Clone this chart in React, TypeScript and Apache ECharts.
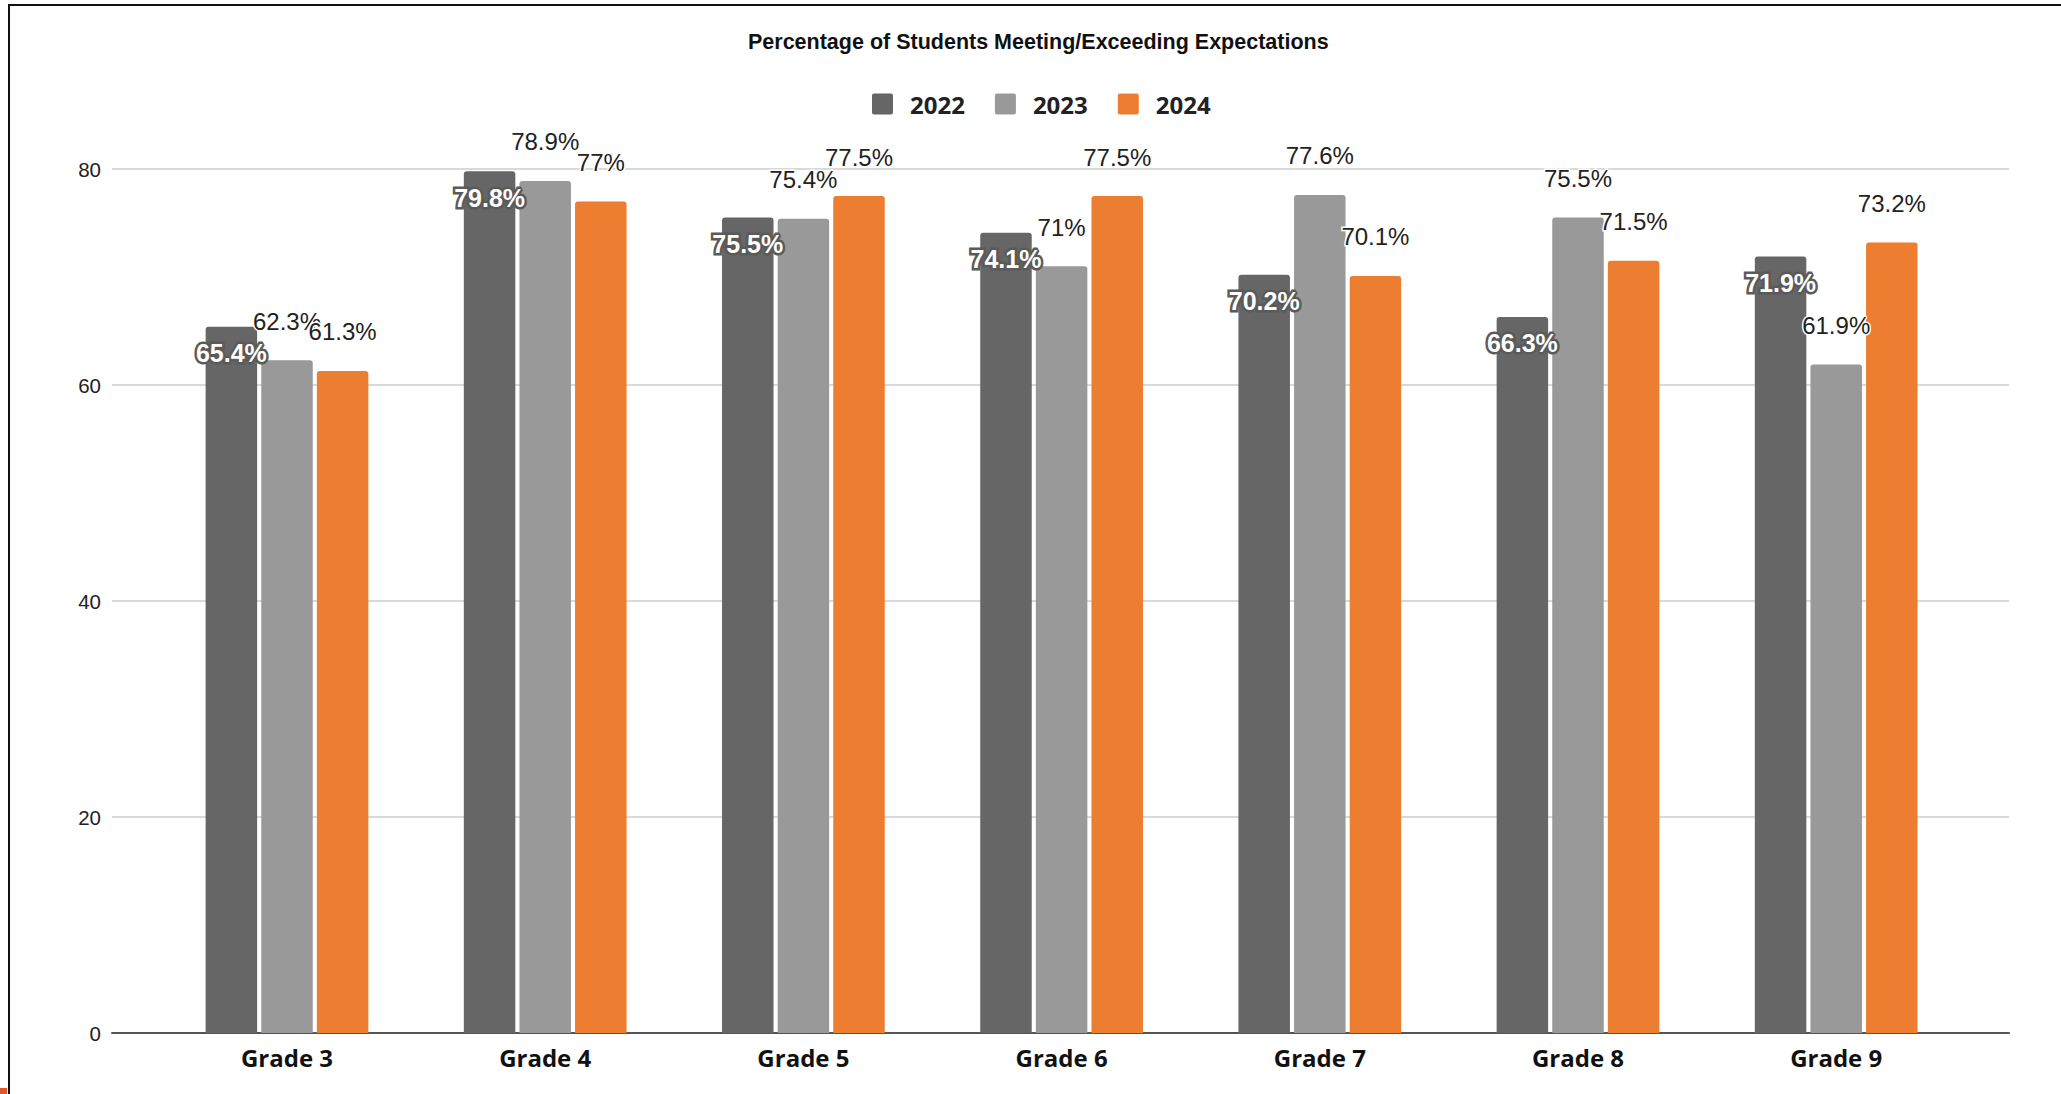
import React, { useEffect, useRef } from "react";
import * as echarts from "echarts";

const categories = ["Grade 3", "Grade 4", "Grade 5", "Grade 6", "Grade 7", "Grade 8", "Grade 9"];
const seriesNames = ["2022", "2023", "2024"];
const values2022 = [65.4, 79.8, 75.5, 74.1, 70.2, 66.3, 71.9];
const values2023 = [62.3, 78.9, 75.4, 71, 77.6, 75.5, 61.9];
const values2024 = [61.3, 77, 77.5, 77.5, 70.1, 71.5, 73.2];
const yMin = 0;
const yMax = 80;
const yInterval = 20;
const colors = ["#666666", "#999999", "#ED7D31"];
const titleText = "Percentage of Students Meeting/Exceeding Expectations";

const squareIcon =
  "path://M2,0H18A2,2,0,0,1,20,2V18A2,2,0,0,1,18,20H2A2,2,0,0,1,0,18V2A2,2,0,0,1,2,0Z";

export default function App() {
  const ref = useRef<HTMLDivElement>(null);
  useEffect(() => {
    if (!ref.current) return;
    const chart = echarts.init(ref.current, null, { renderer: "svg" });
    const outerLabel = {
      show: true,
      position: "top",
      distance: 27,
      formatter: "{c}%",
      color: "#222222",
      fontSize: 24,
      fontFamily: "Liberation Sans, Arial, sans-serif",
      textBorderColor: "#ffffff",
      textBorderWidth: 3,
    };
    chart.setOption({
      animation: false,
      backgroundColor: "#ffffff",
      title: {
        text: titleText,
        left: 748,
        top: 31,
        padding: 0,
        textStyle: {
          fontFamily: "Liberation Sans, Arial, sans-serif",
          fontWeight: "bold",
          fontSize: 21.5,
          color: "#111111",
        },
      },
      legend: {
        data: seriesNames,
        left: 872,
        top: 92,
        padding: 0,
        itemWidth: 21,
        itemHeight: 21,
        itemGap: 30,
        icon: squareIcon,
        textStyle: {
          fontFamily: "Open Sans, sans-serif",
          fontWeight: "bold",
          fontSize: 24,
          color: "#222222",
          padding: [0, 0, 0, 12],
        },
      },
      grid: [
        { left: 112, right: 52, top: 169, bottom: 61 },
        { left: 157.9, right: 95.7, top: 169, bottom: 61 },
      ],
      xAxis: [
        {
          gridIndex: 0,
          type: "value",
          min: 0,
          max: 1,
          axisLine: { show: true, lineStyle: { color: "#555555", width: 2 } },
          axisTick: { show: false },
          axisLabel: { show: false },
          splitLine: { show: false },
        },
        {
          gridIndex: 1,
          type: "category",
          data: categories,
          axisLine: { show: false },
          axisTick: { show: false },
          axisLabel: {
            margin: 12,
            fontFamily: "Open Sans, sans-serif",
            fontWeight: "bold",
            fontSize: 24,
            color: "#111111",
          },
        },
      ],
      yAxis: [
        {
          gridIndex: 0,
          type: "value",
          min: yMin,
          max: yMax,
          interval: yInterval,
          axisLine: { show: false },
          axisTick: { show: false },
          axisLabel: {
            margin: 11,
            fontFamily: "Liberation Sans, Arial, sans-serif",
            fontSize: 20.5,
            color: "#222222",
          },
          splitLine: { show: true, lineStyle: { color: "#cccccc", width: 1.5 } },
        },
        {
          gridIndex: 1,
          type: "value",
          min: yMin,
          max: yMax,
          interval: yInterval,
          show: false,
        },
      ],
      series: [
        {
          name: seriesNames[0],
          type: "bar",
          xAxisIndex: 1,
          yAxisIndex: 1,
          data: values2022,
          barWidth: 51.5,
          barGap: "8%",
          itemStyle: { color: colors[0], borderRadius: [3, 3, 0, 0] },
          label: {
            show: true,
            position: "insideTop",
            distance: 14,
            formatter: "{c}%",
            color: "#ffffff",
            fontWeight: "bold",
            fontSize: 25,
            fontFamily: "Liberation Sans, Arial, sans-serif",
            textBorderColor: "#5a5a5a",
            textBorderWidth: 5,
          },
        },
        {
          name: seriesNames[1],
          type: "bar",
          xAxisIndex: 1,
          yAxisIndex: 1,
          data: values2023,
          barWidth: 51.5,
          barGap: "8%",
          itemStyle: { color: colors[1], borderRadius: [3, 3, 0, 0] },
          label: outerLabel,
        },
        {
          name: seriesNames[2],
          type: "bar",
          xAxisIndex: 1,
          yAxisIndex: 1,
          data: values2024,
          barWidth: 51.5,
          barGap: "8%",
          itemStyle: { color: colors[2], borderRadius: [3, 3, 0, 0] },
          label: outerLabel,
        },
      ],
    });
    return () => chart.dispose();
  }, []);

  return (
    <>
      <div
        ref={ref}
        style={{ position: "absolute", left: 0, top: 0, width: 2061, height: 1094 }}
      />
      <div
        style={{
          position: "absolute",
          left: 8,
          top: 4,
          width: 2061 - 8,
          height: 1094 - 4,
          borderTop: "2px solid #111",
          borderLeft: "2px solid #111",
          boxSizing: "border-box",
          pointerEvents: "none",
        }}
      />
      <div
        style={{
          position: "absolute",
          left: 0,
          top: 1088,
          width: 7,
          height: 6,
          background: "#e2572a",
          pointerEvents: "none",
        }}
      />
    </>
  );
}
